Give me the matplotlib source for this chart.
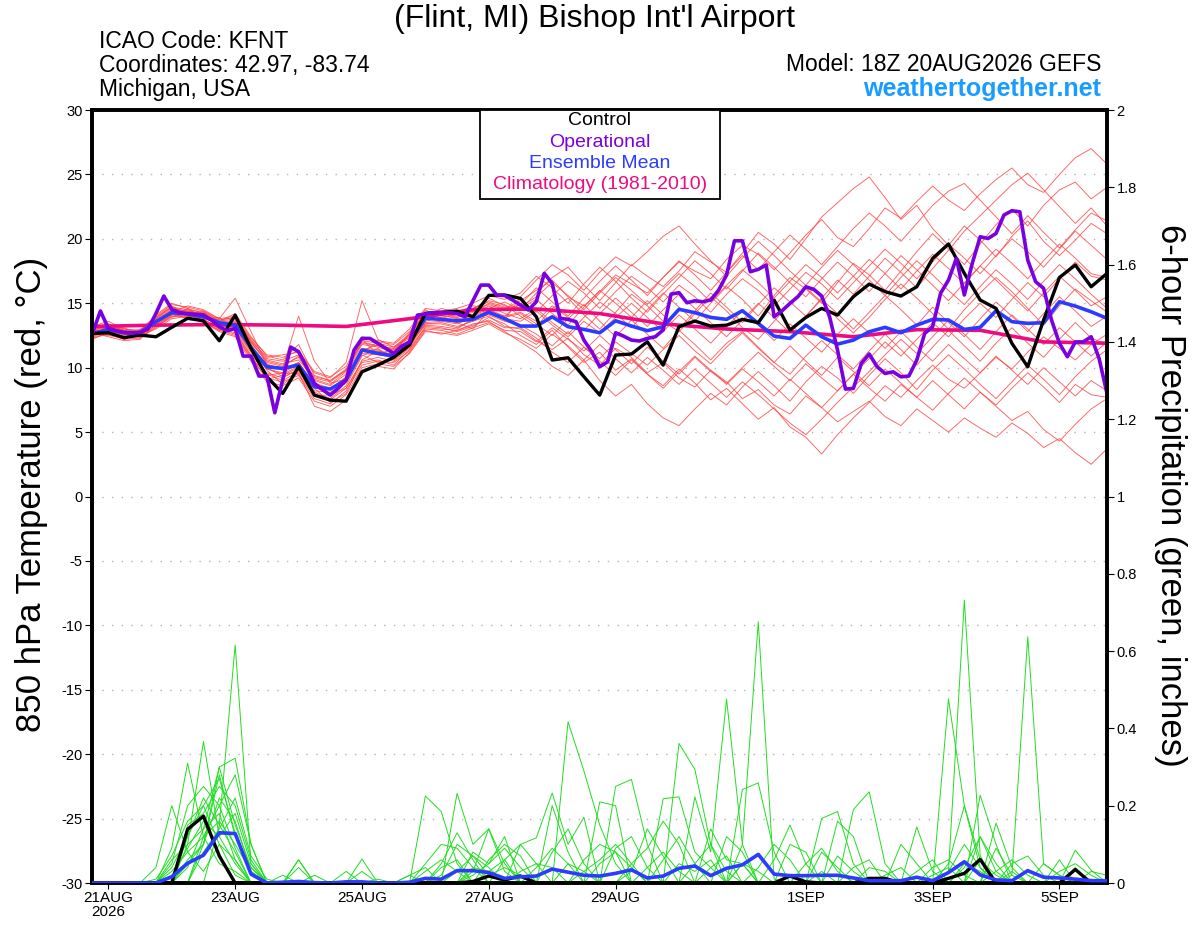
import matplotlib
matplotlib.use("Agg")
import matplotlib.pyplot as plt
from matplotlib.patches import Rectangle

plt.rcParams['font.family'] = ['Liberation Sans', 'DejaVu Sans']

# ---------------- data ----------------
hours6 = list(range(0, 385, 6))        # forecast hours from 18Z 20AUG2026
hours3 = list(range(0, 385, 3))
clim_hours = list(range(0, 385, 24))

tick_hours = [6, 54, 102, 150, 198, 270, 318, 366]
tick_labels = ["21AUG\n2026", "23AUG", "25AUG", "27AUG", "29AUG", "1SEP", "3SEP", "5SEP"]

temp_ticks = [-30, -25, -20, -15, -10, -5, 0, 5, 10, 15, 20, 25, 30]
precip_ticks = [0, 0.2, 0.4, 0.6, 0.8, 1.0, 1.2, 1.4, 1.6, 1.8, 2.0]
precip_tick_labels = ["0", "0.2", "0.4", "0.6", "0.8", "1", "1.2", "1.4", "1.6", "1.8", "2"]

operational_t = [12.7, 14.4, 13.05, 12.87, 12.73, 12.7, 12.73, 13.0, 14.2, 15.56, 14.53, 14.27, 14.2,
                 14.14, 14.09, 13.7, 13.18, 12.87, 13.05, 10.9, 10.9, 9.35, 9.35, 6.5, 9.04, 11.6,
                 11.24, 10.08, 8.78, 8.3, 7.87, 8.4, 9.04, 11.37, 12.27, 12.27, 11.89, 11.5, 11.1,
                 11.67, 12.0, 14.08, 14.16, 14.27, 14.27, 14.27, 14.2, 13.96, 15.2, 16.41, 16.41,
                 15.64, 15.6,
                 15.25, 14.86, 14.47, 15.12, 17.32, 16.54, 13.83, 13.75, 13.57, 12.14, 11.24, 10.07,
                 10.46, 12.71, 12.45, 12.14, 12.07, 12.27, 12.4, 12.92, 15.71, 15.82, 15.04, 15.19,
                 15.12, 15.25, 16.02, 17.19, 19.85, 19.85, 17.45, 17.63, 17.97, 13.95, 14.42, 14.99,
                 15.51, 16.28,
                 16.08, 15.56, 13.95, 11.37, 8.34, 8.39, 10.33, 11.06, 10.07, 9.55, 9.68, 9.29, 9.35,
                 10.59, 12.66, 13.18, 15.77, 16.8, 18.48, 15.64, 18.1, 20.16, 20.03, 20.42, 21.85,
                 22.18, 22.1, 18.35, 16.67, 16.16, 13.7, 11.89, 10.85, 12.0, 12.0, 12.4, 10.72, 8.0]

control_t = [12.66, 12.71, 12.33, 12.53, 12.4, 13.13, 13.83, 13.64, 12.09, 14.08,
             11.5, 9.3, 8.0, 10.07, 7.87, 7.48, 7.4, 9.68, 10.2, 10.8,
             11.76, 14.22, 14.29, 14.39, 13.95, 15.61, 15.64, 15.38, 13.95, 10.59,
             10.77, 9.3, 7.87, 10.98, 11.06, 12.01, 10.2, 13.18, 13.62, 13.23,
             13.3, 13.75, 13.49, 15.25, 12.92, 13.9, 14.6, 14.08, 15.51, 16.49,
             15.9, 15.56, 16.28, 18.48, 19.6, 17.32, 15.25, 14.6, 11.89, 10.07,
             13.7, 17.0, 17.97, 16.28, 17.32]

mean_t = [12.66, 12.97, 12.71, 12.71, 13.57, 14.27, 14.16, 13.95, 13.49, 13.3,
          11.58, 10.07, 9.94, 10.2, 8.52, 8.34, 9.04, 11.37, 11.11, 10.9,
          12.01, 13.83, 13.75, 13.64, 13.75, 14.3, 13.8, 13.23, 13.23, 13.95,
          13.18, 12.97, 12.71, 13.64, 13.23, 12.87, 13.18, 14.53, 14.27, 13.9,
          13.75, 14.42, 13.44, 12.45, 12.27, 13.3, 12.4, 11.83, 12.14, 12.79,
          13.13, 12.71, 13.3, 13.75, 13.7, 12.97, 13.13, 14.42, 13.57, 13.44,
          13.49, 15.12, 14.78, 14.34, 13.83]

climatology_t = [13.2, 13.3, 13.35, 13.3, 13.2, 13.8, 14.5, 14.55, 14.2, 13.4, 13.0, 12.8,
                 12.4, 12.95, 12.9, 12.0, 11.9]

control_p = [0, 0, 0, 0, 0, 0, 0.139, 0.173, 0.07, 0, 0, 0, 0, 0, 0, 0, 0, 0, 0, 0,
             0, 0, 0, 0, 0.004, 0.018, 0.008, 0.018, 0, 0, 0, 0, 0, 0, 0, 0, 0, 0, 0, 0,
             0, 0, 0, 0, 0.018, 0.003, 0, 0, 0, 0.012, 0.012, 0, 0, 0, 0.012, 0.025, 0.061, 0, 0, 0,
             0, 0, 0.035, 0, 0]

mean_p = [0, 0, 0, 0, 0, 0.016, 0.051, 0.072, 0.13, 0.128,
          0.023, 0, 0.002, 0.004, 0.001, 0, 0.003, 0.003, 0, 0,
          0.002, 0.012, 0.01, 0.032, 0.032, 0.027, 0.012, 0.016, 0.018, 0.036,
          0.028, 0.02, 0.018, 0.025, 0.034, 0.013, 0.018, 0.038, 0.044, 0.019,
          0.038, 0.047, 0.074, 0.023, 0.019, 0.019, 0.02, 0.02, 0.013, 0.006,
          0.006, 0.006, 0.015, 0.006, 0.027, 0.055, 0.021, 0.008, 0.006, 0.032,
          0.015, 0.013, 0.01, 0.006, 0.006]

# ensemble member 850 hPa temperatures (6-hourly)
red_m01 = [12.5,13.2,12.9,12.6,13.8,14.6,14.4,14.1,13.2,13.6,11.9,10.5,10.2,10.8,9.0,8.6,9.5,11.8,11.6,11.2,12.6,14.2,14.0,13.9,14.3,15.0,14.6,
           15.2,16.0,16.8,15.5,14.8,15.9,17.2,16.5,15.8,17.0,18.2,17.5,16.9,18.4,19.5,18.8,17.6,18.9,20.3,21.5,20.1,19.4,20.8,22.4,21.6,22.9,24.1,23.0,22.2,23.5,24.6,25.5,24.2,23.6,25.0,26.3,27.0,25.8]
red_m02 = [12.9,12.7,12.4,12.9,13.3,14.1,14.6,13.8,13.9,12.8,11.0,9.6,9.2,9.9,8.1,7.6,8.6,10.9,11.5,10.6,11.6,13.4,13.5,13.2,13.6,14.0,13.2,
           13.0,12.1,11.4,12.3,11.0,10.2,11.5,10.8,9.6,10.4,9.2,8.5,9.8,8.9,7.6,8.3,7.1,6.4,7.8,6.9,5.8,6.6,7.4,6.2,5.5,6.8,5.9,5.0,6.1,5.3,4.6,5.7,4.9,3.8,4.5,3.4,2.5,3.7]
red_m03 = [13.1,13.4,12.8,12.3,13.1,14.0,13.9,14.4,13.6,14.2,12.4,10.9,10.6,11.8,9.4,9.0,9.8,12.2,11.0,11.5,12.3,14.0,14.6,14.3,14.8,14.6,15.1,
           14.5,15.8,17.0,17.8,16.4,15.2,16.6,18.0,17.1,16.3,17.5,19.0,18.2,17.4,18.9,20.5,19.6,18.4,20.0,21.7,22.8,23.9,24.8,23.2,21.5,22.6,20.8,19.5,21.0,19.9,18.6,20.2,21.4,19.8,18.7,19.9,21.2,20.4]
red_m04 = [12.3,12.6,12.2,12.8,13.9,14.8,14.1,13.7,13.0,12.9,11.2,9.4,9.6,9.5,7.8,7.9,8.4,10.4,10.6,10.2,11.4,13.2,13.1,12.8,13.2,13.9,13.4,
           12.5,11.8,12.9,11.6,10.4,11.2,9.8,10.7,9.5,8.6,9.9,8.8,7.5,8.4,7.2,6.0,6.9,5.4,4.6,3.3,4.8,6.1,7.3,8.6,7.7,9.0,10.2,9.1,8.4,9.6,10.8,9.9,11.2,12.4,11.5,10.6,11.8,12.6]
red_m05 = [12.8,13.0,13.1,12.5,13.5,14.3,14.8,14.5,13.8,15.4,12.8,10.2,10.0,14.0,10.5,8.8,9.1,11.2,12.0,11.8,12.8,14.5,13.8,14.2,14.6,15.2,14.9,
           14.0,13.2,14.6,15.4,14.1,13.0,14.3,15.7,14.8,13.6,12.8,14.2,15.5,14.4,13.1,12.2,13.6,15.0,16.2,15.1,13.8,12.7,13.9,15.3,16.5,15.4,14.2,13.0,14.5,15.8,17.0,15.9,14.6,13.3,14.8,16.1,15.2,14.3]
red_m06 = [12.6,12.9,12.5,13.0,13.2,13.9,14.3,14.2,13.3,13.1,11.4,10.0,9.3,9.8,8.4,7.3,8.0,10.6,11.3,11.0,11.8,13.6,13.9,13.5,13.0,14.4,13.7,
           15.5,16.8,18.0,17.2,16.0,17.4,18.6,17.9,19.0,20.2,21.0,19.6,18.3,17.1,18.5,19.8,18.7,17.5,16.4,17.8,19.1,18.0,16.8,15.6,17.0,18.3,17.2,16.0,14.9,16.3,17.6,16.5,15.3,16.7,18.0,16.9,15.7,14.6]
red_m07 = [12.2,12.8,12.6,12.4,13.6,14.5,14.0,13.9,13.5,13.4,11.7,9.8,8.7,9.6,7.0,6.6,7.5,9.8,10.1,9.9,11.2,12.9,12.6,12.9,13.4,13.6,12.8,
           12.0,11.2,10.1,9.4,10.6,9.0,7.8,8.7,7.2,6.1,5.5,6.8,8.0,7.1,8.5,9.7,8.6,7.4,8.9,10.1,9.2,8.0,9.4,10.7,9.6,8.3,9.8,11.0,9.9,8.7,7.6,8.9,10.2,9.1,7.9,9.3,10.5,11.4]
red_m08 = [13.0,13.3,12.9,12.7,13.4,14.2,14.5,14.0,13.7,13.9,12.1,10.8,11.0,11.2,9.6,9.2,10.4,15.2,12.2,11.6,12.4,13.7,14.1,13.8,14.0,14.8,14.2,
           13.8,14.6,13.5,12.6,13.9,15.1,14.2,13.1,14.5,15.8,14.7,13.6,15.0,16.3,15.3,14.0,15.6,17.0,16.1,15.0,16.6,18.1,17.2,16.0,17.5,19.0,20.4,19.2,18.0,19.6,21.1,22.3,21.0,22.6,23.8,24.4,23.1,24.0]
red_m09 = [12.6,12.5,12.3,12.6,13.7,14.4,14.2,13.6,13.1,12.7,10.9,9.1,9.4,10.0,8.2,8.1,8.8,11.0,10.4,10.7,11.9,13.3,13.2,13.0,13.8,14.2,13.9,
           14.2,13.4,12.5,13.8,14.9,13.6,12.4,13.7,12.6,11.5,12.9,11.8,10.6,11.9,12.8,11.6,10.4,11.7,10.5,9.4,10.8,9.7,8.6,9.9,8.8,7.7,9.0,7.9,6.8,8.1,7.0,5.9,6.6,5.2,4.3,5.6,6.8,7.6]
red_m10 = [12.9,13.1,12.7,12.9,13.9,14.7,14.3,14.3,13.4,13.5,11.6,10.3,9.8,10.4,8.6,8.3,9.3,11.5,11.4,10.9,12.2,13.9,13.7,13.6,14.1,14.5,14.0,
           15.0,14.3,15.6,16.7,15.8,14.6,15.9,17.1,16.2,15.1,16.4,15.5,14.3,15.7,16.9,16.0,14.8,16.1,17.4,16.5,15.3,16.6,17.9,19.2,18.1,16.9,18.2,19.6,18.5,17.3,18.7,20.0,19.0,17.8,19.2,20.6,19.5,18.4]
red_m11 = [12.4,12.9,12.6,12.5,13.0,13.8,14.0,13.5,12.9,13.0,11.3,9.9,9.5,10.1,8.8,8.4,9.2,11.3,11.8,11.4,12.0,13.5,13.6,13.4,13.9,14.1,13.6,
           13.3,12.6,11.7,12.8,11.6,10.7,12.0,11.1,10.2,11.4,12.5,11.3,10.3,11.6,12.7,11.5,10.4,9.5,10.9,12.1,11.0,9.9,11.3,12.6,11.4,10.2,11.6,12.9,11.7,10.5,11.9,13.1,11.9,10.8,12.2,13.5,12.3,11.8]
red_m12 = [13.2,13.6,13.0,12.8,14.1,15.0,14.6,14.2,13.5,13.7,12.0,10.6,10.3,10.6,9.1,8.7,9.7,12.0,11.7,11.3,12.7,14.3,14.2,14.0,14.5,15.4,14.8,
           14.6,15.3,14.2,13.3,14.7,16.0,15.0,13.9,15.2,14.1,13.0,14.4,15.8,14.7,13.5,14.9,16.2,15.1,14.0,15.4,16.8,15.7,17.1,18.5,17.4,16.2,17.7,19.1,20.6,21.8,23.0,24.2,25.1,23.8,22.5,21.2,22.4,21.0]
red_m13 = [12.7,12.4,12.1,12.2,13.4,14.2,13.8,13.6,12.9,12.5,10.7,9.2,8.9,9.4,7.6,7.2,8.2,10.2,10.5,10.4,11.3,13.0,12.9,12.6,13.1,13.5,12.9,
           12.8,12.0,13.1,12.2,11.3,12.5,11.4,10.3,11.6,10.5,9.5,10.8,9.7,8.8,10.0,11.2,10.1,9.0,10.3,9.2,8.2,9.5,8.4,7.4,8.7,7.7,6.7,8.0,9.2,8.1,7.1,8.4,9.6,8.5,7.3,8.7,7.9,7.7]
red_m14 = [12.9,13.3,12.9,12.9,14.0,14.9,14.7,14.4,13.8,14.0,12.3,11.0,10.8,11.3,9.7,9.3,10.1,12.4,12.1,11.9,13.0,14.6,14.4,14.6,15.0,15.6,15.3,
           15.8,17.1,16.2,15.0,16.5,17.8,16.7,15.4,14.3,15.7,17.0,18.3,17.3,16.1,17.5,18.9,17.8,16.6,15.5,16.9,18.2,17.1,15.9,17.3,18.7,17.6,16.4,15.2,16.6,17.9,16.8,15.6,14.4,15.8,17.1,16.0,14.8,15.5]
red_m15 = [12.5,12.8,12.4,12.4,13.3,14.0,14.1,13.7,13.2,13.2,11.5,9.9,9.6,10.3,8.5,8.0,9.0,11.1,11.0,10.8,11.8,13.4,13.4,13.1,13.7,14.2,13.8,
           13.6,14.4,13.3,12.4,13.6,12.7,13.9,15.0,13.9,12.8,14.1,13.0,11.9,13.2,14.4,13.3,12.1,13.4,12.3,11.2,12.6,13.8,12.7,11.5,12.8,11.6,10.5,11.8,10.7,9.6,10.9,9.8,8.7,10.0,8.9,7.8,9.0,8.2]
red_m16 = [13.0,13.1,12.8,12.7,13.7,14.5,14.4,14.2,13.6,13.8,12.0,10.4,10.1,10.9,9.2,8.9,9.8,11.9,11.7,11.5,12.5,14.1,14.2,13.9,14.4,14.9,14.5,
           14.9,16.2,15.1,14.0,15.4,16.7,17.9,16.8,15.6,17.0,18.3,17.2,16.0,17.4,18.7,17.6,19.0,20.3,19.2,18.0,19.4,20.8,22.0,21.0,19.8,21.2,22.6,23.7,24.3,23.0,21.7,20.4,21.8,20.5,19.3,20.7,22.0,21.4]
red_m17 = [12.6,12.7,12.3,12.6,13.5,14.3,14.2,13.8,13.0,12.6,10.8,9.5,9.0,9.7,7.9,7.5,8.4,10.5,10.8,10.5,11.5,13.1,13.0,12.9,13.3,13.7,13.1,
           13.1,12.3,11.2,10.4,11.6,10.5,9.4,10.6,9.5,8.4,9.7,10.9,9.8,8.7,9.9,8.9,7.8,9.1,8.0,6.9,8.2,9.5,10.7,12.0,10.9,12.2,13.5,12.4,13.8,15.0,13.9,15.3,16.6,15.5,16.9,18.2,17.1,16.8]
red_m18 = [12.8,13.0,12.7,12.8,13.6,14.4,14.3,14.0,13.4,13.4,11.6,10.1,9.9,10.4,8.7,8.4,9.2,11.4,11.3,11.0,12.1,13.8,13.7,13.5,14.0,14.4,14.0,
           14.3,13.6,14.8,13.9,12.9,14.2,15.4,14.3,13.2,14.5,15.7,14.6,13.5,12.4,13.7,15.0,13.9,12.7,14.0,15.3,14.2,13.0,14.3,15.6,14.5,13.3,14.7,13.5,12.4,13.8,15.1,14.0,12.8,14.2,15.5,14.4,13.2,14.0]
red_m19 = [12.4,12.6,12.2,12.3,13.2,14.1,13.9,13.5,12.8,12.4,10.5,8.9,8.6,9.2,7.4,7.0,7.9,10.0,10.3,10.1,11.1,12.8,12.7,12.5,12.9,13.4,12.7,
           12.2,11.5,12.6,11.7,10.6,11.8,10.7,9.6,10.8,9.8,8.7,9.9,8.8,7.7,8.9,7.9,6.8,5.7,4.8,6.0,7.3,8.5,9.7,11.0,12.2,11.1,12.4,13.7,12.6,11.4,12.8,14.1,13.0,11.8,13.1,12.0,10.9,12.0]
red_m20 = [13.1,13.4,13.0,12.9,13.8,14.7,14.5,14.3,13.7,13.9,12.2,10.7,10.5,11.0,9.3,9.0,9.9,12.1,11.9,11.6,12.6,14.3,14.1,14.2,14.6,15.1,14.7,
           14.7,15.5,16.6,15.6,14.5,15.8,17.0,16.0,14.9,16.1,17.3,16.3,15.1,16.4,17.6,16.6,15.4,16.7,18.0,17.0,15.8,17.1,18.4,17.3,16.1,17.5,18.8,17.7,16.5,17.9,19.2,18.1,16.9,18.3,19.6,18.5,17.3,17.0]

red_members = [red_m01, red_m02, red_m03, red_m04, red_m05, red_m06, red_m07, red_m08, red_m09, red_m10,
               red_m11, red_m12, red_m13, red_m14, red_m15, red_m16, red_m17, red_m18, red_m19, red_m20]

# ensemble member 6-hour precipitation (inches)
grn_m01 = [0,0,0,0,0.04, 0.2,0.08,0.03,0.1,0.02, 0,0,0,0,0, 0,0,0,0,0, 0,0.225,0.185,0.05,0, 0,0,0,0,0, 0,0,0,0.25,0.268, 0.1,0,0,0,0, 0,0.05,0,0,0, 0,0,0,0,0, 0,0,0,0,0.476, 0.2,0.04,0,0,0, 0,0,0,0,0]
grn_m02 = [0,0,0,0,0, 0.09,0.31,0.12,0.05,0.03, 0,0,0,0,0, 0,0,0,0,0, 0,0,0,0.232,0.1, 0.14,0.03,0,0,0, 0.417,0.29,0.15,0.05,0, 0,0,0,0,0, 0,0.1,0.676,0.01,0, 0,0,0,0,0, 0,0,0,0,0.03, 0.732,0.07,0,0,0, 0,0,0,0,0]
grn_m03 = [0,0,0,0,0, 0,0.1,0.366,0.12,0.05, 0,0,0,0.06,0, 0,0,0,0,0, 0,0,0,0,0, 0,0,0.1,0.117,0.233, 0.1,0.17,0,0,0, 0,0,0.361,0.294,0.1, 0,0,0,0,0, 0,0,0,0,0, 0,0,0,0,0, 0,0,0,0.02,0.637, 0.05,0.02,0,0,0]
grn_m04 = [0,0,0,0,0, 0,0,0.1,0.3,0.323, 0.1,0,0,0,0, 0,0,0.062,0,0, 0,0,0,0,0.03, 0.14,0.05,0,0,0, 0,0,0,0,0, 0,0,0,0.223,0.08, 0.476,0.1,0,0,0, 0,0,0,0,0, 0,0,0.145,0.03,0, 0,0,0.155,0.04,0, 0,0,0,0,0]
grn_m05 = [0,0,0,0,0, 0,0,0,0.15,0.616, 0.05,0,0,0,0, 0,0,0,0,0, 0,0,0.05,0.13,0.06, 0,0,0,0,0.2, 0.08,0,0,0,0, 0,0.218,0.223,0.08,0.04, 0,0,0,0,0, 0,0.167,0.185,0.05,0, 0,0,0,0,0, 0,0.227,0.1,0,0, 0,0,0,0,0]
grn_m06 = [0,0,0,0,0, 0.05,0.2,0.25,0.2,0.28, 0.1,0,0,0,0, 0,0,0,0,0, 0.02,0,0,0,0, 0,0.06,0.1,0.05,0, 0,0,0.21,0.2,0, 0,0,0,0,0, 0,0.242,0.259,0.08,0, 0,0,0,0.19,0.236, 0.05,0,0,0,0, 0,0,0,0,0, 0,0,0.085,0.033,0]
grn_m07 = [0,0,0,0,0, 0,0.15,0.18,0.25,0.2, 0.06,0,0,0.06,0, 0,0,0,0,0, 0,0.05,0.1,0.09,0.04, 0,0,0,0,0, 0,0,0,0,0.05, 0.09,0.16,0.1,0,0, 0,0,0,0,0, 0,0,0.16,0.12,0, 0,0,0,0,0.05, 0.2,0.06,0,0,0, 0,0,0,0,0]
grn_m08 = [0,0,0,0,0.01, 0.07,0.16,0.2,0.27,0.13, 0.02,0,0,0,0, 0,0,0,0,0, 0,0,0,0,0.08, 0.05,0.12,0,0,0, 0,0.06,0.1,0.08,0, 0,0,0,0,0.14, 0.06,0.05,0,0,0, 0,0,0,0,0, 0,0,0,0.04,0.06, 0.02,0,0,0,0, 0,0,0,0.03,0.02]
grn_m09 = [0,0,0,0,0, 0,0.05,0.1,0.22,0.16, 0.03,0,0,0,0, 0,0,0.03,0,0, 0,0,0,0,0, 0.06,0.1,0.07,0,0, 0,0,0,0,0, 0,0.06,0.12,0.05,0, 0,0,0,0,0.1, 0.08,0,0,0,0, 0,0,0,0,0, 0,0.12,0.05,0,0, 0,0.06,0,0,0]
grn_m10 = [0,0,0,0,0, 0.03,0.08,0.12,0.2,0.09, 0,0,0.02,0,0, 0,0,0,0,0, 0,0,0,0.03,0.07, 0.04,0,0,0,0.08, 0.14,0.05,0,0,0, 0,0,0,0,0, 0,0,0,0.06,0.15, 0.05,0,0,0,0, 0,0.1,0.05,0,0, 0,0,0,0.03,0, 0,0,0,0,0]
grn_m11 = [0,0,0,0,0, 0,0.12,0.2,0.1,0.06, 0,0,0,0,0, 0,0.03,0,0,0, 0,0,0.02,0.1,0.07, 0.02,0,0,0,0, 0,0,0,0.09,0.12, 0.04,0,0,0,0, 0,0,0,0,0, 0,0.08,0.04,0,0, 0,0,0,0,0, 0.04,0.12,0.03,0,0, 0.05,0.02,0,0,0]
grn_m12 = [0,0,0,0,0, 0,0,0.08,0.14,0.22, 0.07,0.01,0,0,0, 0,0,0,0,0, 0,0,0,0,0.02, 0.05,0.09,0.04,0,0, 0,0,0,0,0.03, 0.14,0.07,0,0,0, 0.12,0.08,0,0,0, 0,0,0,0,0.04, 0.03,0,0,0,0, 0,0,0.09,0.02,0, 0,0,0,0,0]
grn_m13 = [0,0,0,0,0, 0.04,0.12,0.22,0.15,0.08, 0,0,0,0,0.02, 0,0,0,0,0, 0,0.03,0.06,0.03,0, 0,0,0,0.04,0.09, 0.05,0,0,0,0, 0,0,0,0.05,0.1, 0.03,0,0,0,0, 0,0,0.07,0.03,0, 0,0,0,0,0.03, 0.1,0.04,0,0,0, 0,0,0,0,0]
grn_m14 = [0,0,0,0,0, 0,0.06,0.1,0.28,0.12, 0.04,0,0,0,0, 0,0,0,0,0, 0,0,0,0,0, 0.03,0.06,0,0,0, 0,0,0.05,0.08,0.04, 0,0,0,0,0, 0,0,0.04,0.1,0.06, 0,0,0,0,0, 0,0,0.03,0.06,0, 0,0,0,0.05,0.07, 0.02,0,0,0,0]
grn_m15 = [0,0,0,0,0, 0.02,0.09,0.16,0.12,0.18, 0.05,0,0,0.04,0, 0,0,0,0,0, 0,0,0.04,0.06,0, 0,0,0,0,0, 0,0.03,0.06,0.1,0.05, 0,0,0,0,0, 0,0,0,0,0, 0.05,0.09,0.03,0,0, 0,0,0,0,0, 0,0.06,0.02,0,0, 0,0,0.04,0,0]
grn_m16 = [0,0,0,0,0, 0,0,0.12,0.16,0.1, 0.03,0,0,0,0, 0,0,0,0,0, 0.02,0.04,0,0,0, 0,0,0.03,0.05,0.04, 0,0,0,0,0, 0,0,0.05,0.03,0.06, 0,0,0,0,0, 0,0,0,0.04,0.06, 0,0,0,0.02,0.04, 0,0,0,0,0, 0,0,0,0,0.01]
grn_m17 = [0,0,0,0,0, 0,0.04,0.14,0.18,0.06, 0,0,0,0,0, 0,0,0,0.01,0, 0,0,0,0,0, 0.02,0.04,0.02,0,0, 0,0,0,0,0, 0.04,0.08,0.03,0,0, 0,0.05,0.03,0,0, 0,0,0,0,0, 0.02,0.04,0,0,0, 0,0,0.03,0.06,0.02, 0,0,0,0,0]
grn_m18 = [0,0,0,0,0, 0.06,0.1,0.14,0.3,0.15, 0.04,0,0,0,0, 0,0,0,0,0, 0,0,0,0,0.04, 0.03,0,0,0,0, 0.05,0.03,0,0,0, 0,0,0,0,0.04, 0.07,0,0,0,0, 0,0.03,0,0,0, 0,0,0,0,0, 0.05,0.03,0,0,0, 0,0.03,0.05,0.02,0]

green_members = [grn_m01, grn_m02, grn_m03, grn_m04, grn_m05, grn_m06, grn_m07, grn_m08, grn_m09,
                 grn_m10, grn_m11, grn_m12, grn_m13, grn_m14, grn_m15, grn_m16, grn_m17, grn_m18]

# ---------------- figure ----------------
fig = plt.figure(figsize=(12, 9.27), dpi=100)
ax = fig.add_axes([0.07708, 0.04746, 0.84542, 0.83387])
ax2 = ax.twinx()

for v in temp_ticks[1:-1]:
    ax.axhline(v, color='#b4b4b4', lw=1.0, linestyle=(0, (1, 6)), zorder=1)

for m in red_members:
    ax.plot(hours6, m, color='#ff4545', lw=0.65, alpha=0.85, zorder=2)
ax.plot(clim_hours, climatology_t, color='#ee0a7f', lw=2.6, zorder=4, solid_capstyle='round')
ax.plot(hours6, mean_t, color='#2b3bff', lw=2.6, zorder=5)
ax.plot(hours6, control_t, color='black', lw=2.4, zorder=6)
ax.plot(hours3, operational_t, color='#7a00e0', lw=2.6, zorder=7)

for m in green_members:
    ax2.plot(hours6, m, color='#22dd22', lw=0.7, zorder=2)
ax2.plot(hours6, control_p, color='black', lw=2.4, zorder=4)
ax2.plot(hours6, mean_p, color='#2b3bff', lw=2.6, zorder=5)

ax.set_xlim(0, 384)
ax.set_ylim(-30, 30)
ax2.set_ylim(0, 2)

ax.set_yticks(temp_ticks)
ax.set_yticklabels([str(t) for t in temp_ticks])
ax2.set_yticks(precip_ticks)
ax2.set_yticklabels(precip_tick_labels)
ax.set_xticks(tick_hours)
ax.set_xticklabels(tick_labels, linespacing=1.0)

ax.tick_params(axis='y', length=5, width=0.8, labelsize=10.5, pad=2, direction='out')
ax2.tick_params(axis='y', length=5, width=0.8, labelsize=10.5, pad=2, direction='out')
ax.tick_params(axis='x', length=4, width=0.8, labelsize=11, pad=2, direction='out')

for a in (ax, ax2):
    for s in a.spines.values():
        s.set_linewidth(2.6)
        s.set_color('black')

# legend box
ax2.add_patch(Rectangle((0.382, 0.885), 0.2366, 0.115, transform=ax2.transAxes,
                        facecolor='white', edgecolor='black', lw=1.3, zorder=20, clip_on=False))
leg_items = [("Control", 'black', 0.9858), ("Operational", '#7a00e0', 0.9586),
             ("Ensemble Mean", '#2b3bff', 0.9314), ("Climatology (1981-2010)", '#ee0a7f', 0.9030)]
for txt, col, yy in leg_items:
    ax2.text(0.5002, yy, txt, color=col, transform=ax2.transAxes, ha='center', va='center',
             fontsize=14, zorder=21)

# header texts
fig.text(595 / 1200, 1 - 19 / 927, "(Flint, MI) Bishop Int'l Airport", ha='center', va='center',
         fontsize=23)
fig.text(99 / 1200, 1 - 48 / 927, "ICAO Code: KFNT", ha='left', va='baseline', fontsize=16.5)
fig.text(99 / 1200, 1 - 72 / 927, "Coordinates: 42.97, -83.74", ha='left', va='baseline', fontsize=16.5)
fig.text(99 / 1200, 1 - 96 / 927, "Michigan, USA", ha='left', va='baseline', fontsize=16.5)
fig.text(1101 / 1200, 1 - 71 / 927, "Model: 18Z 20AUG2026 GEFS", ha='right', va='baseline', fontsize=16.5)
fig.text(1101 / 1200, 1 - 96 / 927, "weathertogether.net", ha='right', va='baseline', fontsize=18,
         fontweight='bold', color='#1a9cff')

fig.text(32 / 1200, 1 - 494 / 927, "850 hPa Temperature (red, °C)", rotation=90, ha='center',
         va='center', fontsize=25)
fig.text(1170 / 1200, 1 - 495 / 927, "6-hour Precipitation (green, inches)", rotation=270,
         ha='center', va='center', fontsize=25)

fig.savefig("out.png", dpi=100)
